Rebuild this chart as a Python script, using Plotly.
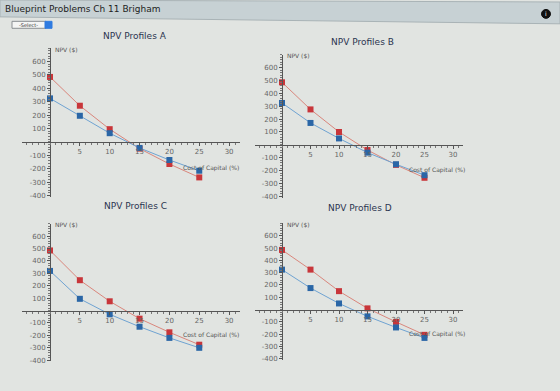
import plotly.graph_objects as go

# ---- data ----
rates = [0, 5, 10, 15, 20, 25]
a_red = [485, 270, 95, -50, -165, -265]
a_blue = [325, 195, 65, -45, -135, -215]
b_red = [485, 275, 100, -40, -155, -255]
b_blue = [325, 170, 50, -60, -150, -235]
c_red = [485, 245, 75, -65, -175, -275]
c_blue = [320, 95, -30, -130, -220, -300]
d_red = [485, 325, 150, 10, -100, -205]
d_blue = [325, 175, 50, -55, -145, -230]
titles = ["NPV Profiles A", "NPV Profiles B", "NPV Profiles C", "NPV Profiles D"]
x_ticks = [5, 10, 15, 20, 25, 30]
y_ticks = [-400, -300, -200, -100, 100, 200, 300, 400, 500, 600]
y_ticktext = ["-400", "-300", "-200", "-100", "100", "200", "300", "400", "500", "600"]
x_label = "Cost of Capital (%)"
y_label = "NPV ($)"

W, H = 560, 391
FONT = "DejaVu Sans"
RED_M, RED_L = "#c8363a", "#d9867c"
BLUE_M, BLUE_L = "#2a66a6", "#6fa3d2"


def px(p):
    return p / W


def py(p):
    return 1 - p / H


XR = [-4.7, 31.8]
YR = [-410, 700]

# pixel geometry: origin (x0, y0), px per unit x, px per unit y, title position
geo = [
    dict(x0=50, xs=5.97, y0=143, ys=0.135, tx=135, ty=36),
    dict(x0=282, xs=5.7, y0=146, ys=0.130, tx=362, ty=42),
    dict(x0=50, xs=5.97, y0=313, ys=0.125, tx=135, ty=208),
    dict(x0=282, xs=5.7, y0=312, ys=0.124, tx=360, ty=210),
]
series = [(a_red, a_blue), (b_red, b_blue), (c_red, c_blue), (d_red, d_blue)]

fig = go.Figure()
layout = {}
annotations = []
shapes = []

for i, (g, (red, blue)) in enumerate(zip(geo, series)):
    n = "" if i == 0 else str(i + 1)
    left = g["x0"] + XR[0] * g["xs"]
    right = g["x0"] + XR[1] * g["xs"]
    top = g["y0"] - YR[1] * g["ys"]
    bottom = g["y0"] - YR[0] * g["ys"]
    layout["xaxis" + n] = dict(
        domain=[px(left), px(right)], range=XR, anchor="free", position=py(g["y0"]),
        showline=True, linecolor="#555", linewidth=1, ticks="outside", ticklen=3,
        tickcolor="#555", tickvals=x_ticks, showgrid=False, zeroline=False,
        minor=dict(dtick=1, ticks="outside", ticklen=2, tickcolor="#777", showgrid=False),
        tickfont=dict(family=FONT, size=7, color="#666"), fixedrange=True,
    )
    layout["yaxis" + n] = dict(
        domain=[py(bottom), py(top)], range=YR, anchor="free", position=px(g["x0"]),
        showline=True, linecolor="#555", linewidth=1, ticks="outside", ticklen=3,
        tickcolor="#555", tickvals=y_ticks, ticktext=y_ticktext,
        showgrid=False, zeroline=False,
        minor=dict(dtick=20, ticks="outside", ticklen=2, tickcolor="#777", showgrid=False),
        tickfont=dict(family=FONT, size=7, color="#666"), fixedrange=True,
    )
    xa, ya = "x" + n, "y" + n
    for vals, mc, lc in ((red, RED_M, RED_L), (blue, BLUE_M, BLUE_L)):
        fig.add_trace(go.Scatter(
            x=rates, y=vals, xaxis=xa, yaxis=ya, mode="lines+markers",
            line=dict(color=lc, width=1), cliponaxis=False,
            marker=dict(symbol="square", size=6, color=mc), showlegend=False,
        ))
    annotations.append(dict(
        text=titles[i], x=px(g["tx"]), y=py(g["ty"]), xref="paper", yref="paper",
        showarrow=False, xanchor="center", yanchor="middle",
        font=dict(family=FONT, size=9, color="#2b3450"),
    ))
    annotations.append(dict(
        text=y_label, x=px(g["x0"] + 3), y=py(top + 1), xref="paper", yref="paper",
        showarrow=False, xanchor="left", yanchor="middle",
        font=dict(family=FONT, size=6, color="#555"),
    ))
    annotations.append(dict(
        text=x_label, x=22, y=-195, xref=xa, yref=ya,
        showarrow=False, xanchor="left", yanchor="middle",
        font=dict(family=FONT, size=6, color="#555"),
    ))

# header bar
shapes.append(dict(
    type="path", xref="paper", yref="paper",
    path=f"M 0 1 L 1 {py(2)} L 1 {py(24)} L 0 {py(17)} Z",
    fillcolor="#c7d1d4", line=dict(color="#a9b3b6", width=1), layer="below",
))
annotations.append(dict(
    text="Blueprint Problems Ch 11 Brigham", x=px(3), y=py(9), xref="paper", yref="paper",
    showarrow=False, xanchor="left", yanchor="middle",
    font=dict(family=FONT, size=9, color="#222"),
))
# select dropdown
shapes.append(dict(type="rect", xref="paper", yref="paper",
                   x0=px(12), x1=px(46), y0=py(28.5), y1=py(21.5),
                   fillcolor="#f4f5f4", line=dict(color="#8a8f92", width=1)))
shapes.append(dict(type="rect", xref="paper", yref="paper",
                   x0=px(45), x1=px(52), y0=py(28.5), y1=py(21.5),
                   fillcolor="#2f7be0", line=dict(color="#2f7be0", width=1)))
annotations.append(dict(
    text="-Select-", x=px(28), y=py(25), xref="paper", yref="paper",
    showarrow=False, xanchor="center", yanchor="middle",
    font=dict(family=FONT, size=5, color="#333"),
))
# info icon
shapes.append(dict(type="circle", xref="paper", yref="paper",
                   x0=px(541.5), x1=px(550.5), y0=py(18.5), y1=py(9.5),
                   fillcolor="#111", line=dict(color="#111", width=1)))
annotations.append(dict(
    text="i", x=px(546), y=py(14), xref="paper", yref="paper",
    showarrow=False, xanchor="center", yanchor="middle",
    font=dict(family=FONT, size=6, color="#fff"),
))

fig.update_layout(
    width=W, height=H, margin=dict(l=0, r=0, t=0, b=0),
    paper_bgcolor="#e1e4e1", plot_bgcolor="rgba(0,0,0,0)",
    annotations=annotations, shapes=shapes, **layout,
)
fig.write_html("out.html")
